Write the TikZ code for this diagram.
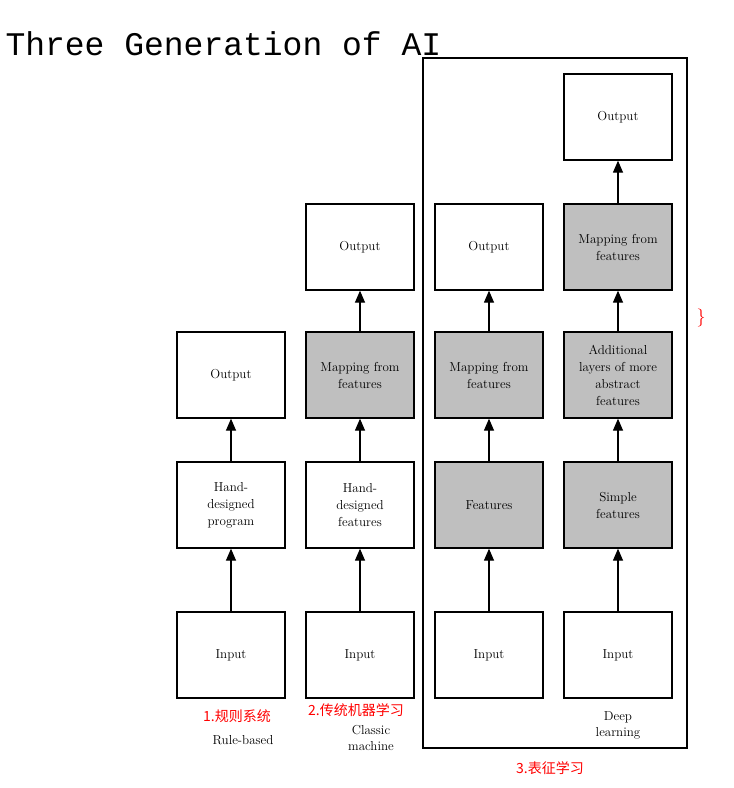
\documentclass[tikz,border=0pt]{standalone}
\usepackage{fontspec}
\newfontfamily\cjk{Noto Sans CJK SC}
\newfontfamily\monofont{Liberation Mono}
\usetikzlibrary{arrows.meta}
\begin{document}
\begin{tikzpicture}[x=1pt, y=-1pt,
    box/.style={draw, line width=1.3pt, minimum width=108pt, minimum height=86pt, align=center, font=\fontsize{13}{17}\selectfont},
    learned/.style={box, fill=gray!50},
    arrow/.style={-{Triangle[length=12pt, width=10pt]}, line width=1.3pt},
    note/.style={font=\fontsize{13}{16}\selectfont, align=center},
    tag/.style={red, font=\cjk\fontsize{14}{16}\selectfont}
  ]
  \useasboundingbox (0,0) rectangle (734,788);
  \node[anchor=west, font=\monofont\fontsize{33}{36}\selectfont] (title) at (2,44) {Three Generation of AI};

  % rule-based
  \node[box] (rin)   at (231,655) {Input};
  \node[box] (rprog) at (231,505) {Hand-\\designed\\program};
  \node[box] (rout)  at (231,375) {Output};
  % classic machine learning
  \node[box]     (cin)   at (360,655) {Input};
  \node[box]     (cfeat) at (360,505) {Hand-\\designed\\features};
  \node[learned] (cmap)  at (360,375) {Mapping from\\features};
  \node[box]     (cout)  at (360,247) {Output};
  % representation learning
  \node[box]     (lin)   at (489,655) {Input};
  \node[learned] (lfeat) at (489,505) {Features};
  \node[learned] (lmap)  at (489,375) {Mapping from\\features};
  \node[box]     (lout)  at (489,247) {Output};
  % deep learning
  \node[box]     (din)   at (618,655) {Input};
  \node[learned] (dsim)  at (618,505) {Simple\\features};
  \node[learned] (dabs)  at (618,375) {Additional\\layers of more\\abstract\\features};
  \node[learned] (dmap)  at (618,247) {Mapping from\\features};
  \node[box]     (dout)  at (618,117) {Output};

  \foreach \a/\b in {rin/rprog, rprog/rout, cin/cfeat, cfeat/cmap, cmap/cout,
                     lin/lfeat, lfeat/lmap, lmap/lout, din/dsim, dsim/dabs, dabs/dmap, dmap/dout}
    \draw[arrow] (\a) -- (\b);

  \draw[line width=1.3pt] (423,58) rectangle (687,748);

  \node[note] (rnote) at (243,740) {Rule-based};
  \node[note] (cnote) at (371,738) {Classic\\machine};
  \node[note] (dnote) at (618,725) {Deep\\learning};
  \node[tag] (rtag) at (237,716) {1.规则系统};
  \node[tag] (ctag) at (356,710) {2.传统机器学习};
  \node[tag] (ltag) at (550,768) {3.表征学习};
  \node[red, font=\fontsize{18}{18}\selectfont] (brace) at (701,318) {\}};
\end{tikzpicture}
\end{document}
